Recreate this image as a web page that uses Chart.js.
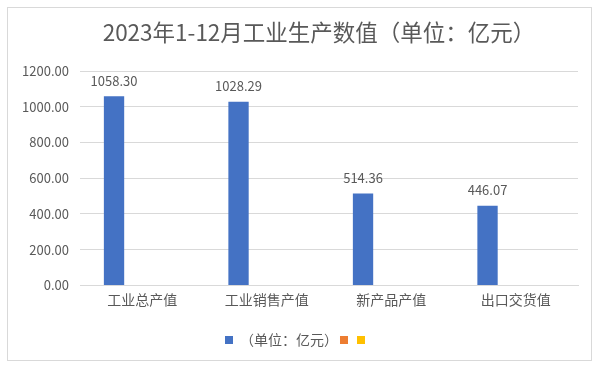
<!DOCTYPE html>
<html>
<head>
<meta charset="utf-8">
<script src="https://cdn.jsdelivr.net/npm/chart.js@4"></script>
<style>
  html, body { margin: 0; padding: 0; background: #fff; }
  #box { position: absolute; left: 7px; top: 7px; width: 585px; height: 354px; border: 1px solid #d9d9d9; box-sizing: border-box; }
  #wrap { position: absolute; left: 0; top: 0; width: 600px; height: 369px; }
</style>
</head>
<body>
<div id="box"></div>
<div id="wrap"><canvas id="chart"></canvas></div>
<script>
const categories = ['工业总产值', '工业销售产值', '新产品产值', '出口交货值'];
const values = [1058.30, 1028.29, 514.36, 446.07];
const emptySeries = [null, null, null, null];
const yTicks = [0, 200, 400, 600, 800, 1000, 1200];
const seriesName = '（单位：亿元）';
const chartTitle = '2023年1-12月工业生产数值（单位：亿元）';

const font = '"Noto Sans CJK SC", "Noto Sans", sans-serif';
const textColor = '#595959';

// title (sits a bit right of centre in the original) and value labels above the blue bars
const extraText = {
    id: 'extraText',
    afterDraw(chart) {
        const ctx = chart.ctx;
        ctx.save();
        ctx.fillStyle = textColor;
        ctx.textAlign = 'center';
        ctx.textBaseline = 'middle';
        ctx.font = '22.5px ' + font;
        ctx.fillText(chartTitle, 319, 32);

        ctx.font = '13px ' + font;
        ctx.textBaseline = 'bottom';
        chart.getDatasetMeta(0).data.forEach((bar, i) => {
            ctx.fillText(values[i].toFixed(2), bar.x, bar.y - 9);
        });
        ctx.restore();
    }
};

const ctx = document.getElementById('chart').getContext('2d');
const myChart = new Chart(ctx, {
    type: 'bar',
    data: {
        labels: categories,
        datasets: [
            { label: seriesName, data: values, backgroundColor: '#4472C4' },
            { label: '', data: emptySeries, backgroundColor: '#ED7D31' },
            { label: '', data: emptySeries, backgroundColor: '#FFC000' }
        ]
    },
    options: {
        responsive: true,
        maintainAspectRatio: false,
        animation: false,
        categoryPercentage: 0.68,
        barPercentage: 0.72,
        layout: { padding: { left: 19, right: 22, top: 71, bottom: 12 } },
        plugins: {
            title: { display: false },
            legend: {
                position: 'bottom',
                title: { display: true, text: ' ', font: { size: 14 }, padding: 0 },
                labels: {
                    color: textColor,
                    font: { family: font, size: 14 },
                    boxWidth: 8,
                    boxHeight: 8,
                    padding: 2
                }
            },
            tooltip: { enabled: false }
        },
        scales: {
            x: {
                grid: { display: false, drawTicks: false },
                border: { display: true, color: '#d9d9d9' },
                ticks: { color: textColor, font: { family: font, size: 14 }, padding: 6 }
            },
            y: {
                min: 0,
                max: 1200,
                afterBuildTicks: s => { s.ticks = yTicks.map(v => ({ value: v })); },
                afterFit: s => { s.width = 61; },
                grid: { color: '#d9d9d9', drawTicks: false },
                border: { display: false },
                ticks: {
                    color: textColor,
                    font: { family: font, size: 13 },
                    padding: 11,
                    callback: v => Number(v).toFixed(2)
                }
            }
        }
    },
    plugins: [extraText]
});
</script>
</body>
</html>
